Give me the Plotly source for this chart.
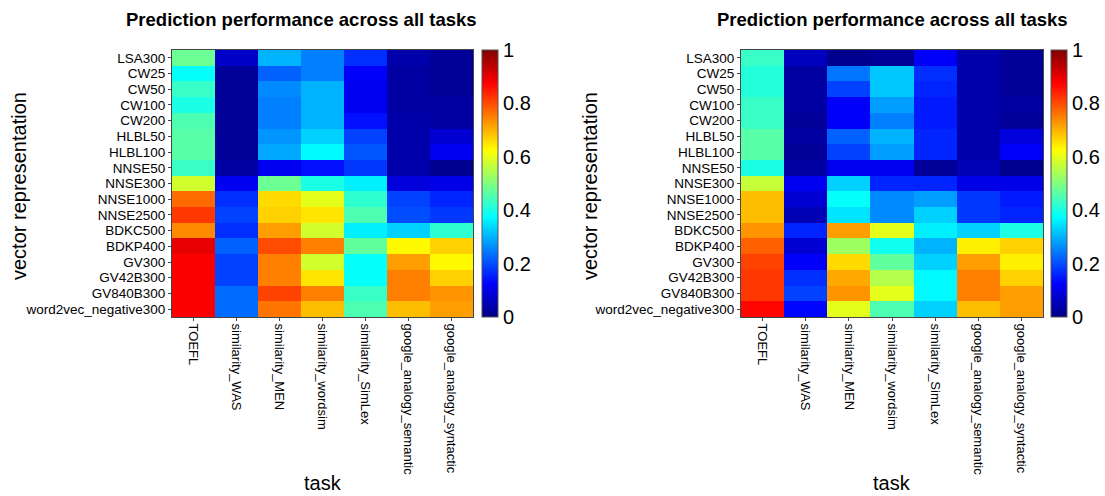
import plotly.graph_objects as go

W, H = 1105, 496

tasks = ["TOEFL", "similarity_WAS", "similarity_MEN", "similarity_wordsim",
         "similarity_SimLex", "google_analogy_semantic", "google_analogy_syntactic"]
vectors = ["LSA300", "CW25", "CW50", "CW100", "CW200", "HLBL50", "HLBL100", "NNSE50",
           "NNSE300", "NNSE1000", "NNSE2500", "BDKC500", "BDKP400", "GV300", "GV42B300",
           "GV840B300", "word2vec_negative300"]

left_values = [
    [0.48, 0.07, 0.30, 0.25, 0.17, 0.04, 0.02],
    [0.38, 0.02, 0.22, 0.25, 0.12, 0.03, 0.02],
    [0.43, 0.02, 0.26, 0.30, 0.11, 0.03, 0.02],
    [0.40, 0.02, 0.25, 0.30, 0.11, 0.03, 0.03],
    [0.45, 0.02, 0.25, 0.30, 0.14, 0.04, 0.03],
    [0.46, 0.02, 0.27, 0.33, 0.19, 0.04, 0.08],
    [0.46, 0.02, 0.29, 0.37, 0.21, 0.04, 0.11],
    [0.43, 0.03, 0.11, 0.14, 0.18, 0.04, 0.01],
    [0.58, 0.11, 0.48, 0.40, 0.36, 0.09, 0.10],
    [0.77, 0.17, 0.66, 0.60, 0.42, 0.19, 0.16],
    [0.82, 0.19, 0.67, 0.65, 0.45, 0.20, 0.18],
    [0.74, 0.17, 0.72, 0.58, 0.36, 0.33, 0.42],
    [0.90, 0.22, 0.80, 0.75, 0.47, 0.63, 0.67],
    [0.88, 0.19, 0.75, 0.58, 0.38, 0.72, 0.63],
    [0.88, 0.19, 0.75, 0.65, 0.38, 0.75, 0.67],
    [0.88, 0.23, 0.81, 0.75, 0.43, 0.75, 0.73],
    [0.88, 0.23, 0.76, 0.69, 0.45, 0.69, 0.72],
]

right_values = [
    [0.43, 0.06, 0.01, 0.02, 0.12, 0.04, 0.02],
    [0.41, 0.03, 0.24, 0.32, 0.17, 0.04, 0.02],
    [0.41, 0.03, 0.19, 0.32, 0.16, 0.04, 0.02],
    [0.43, 0.03, 0.12, 0.28, 0.15, 0.04, 0.03],
    [0.43, 0.02, 0.12, 0.25, 0.15, 0.04, 0.02],
    [0.46, 0.03, 0.22, 0.30, 0.16, 0.04, 0.09],
    [0.46, 0.02, 0.19, 0.28, 0.16, 0.04, 0.12],
    [0.40, 0.03, 0.11, 0.11, 0.02, 0.05, 0.01],
    [0.57, 0.11, 0.33, 0.16, 0.16, 0.10, 0.10],
    [0.69, 0.08, 0.38, 0.26, 0.28, 0.18, 0.15],
    [0.69, 0.05, 0.35, 0.26, 0.33, 0.18, 0.16],
    [0.73, 0.16, 0.72, 0.60, 0.36, 0.33, 0.40],
    [0.78, 0.08, 0.53, 0.39, 0.30, 0.64, 0.67],
    [0.81, 0.12, 0.66, 0.47, 0.33, 0.72, 0.64],
    [0.82, 0.17, 0.71, 0.55, 0.37, 0.75, 0.67],
    [0.82, 0.19, 0.73, 0.60, 0.37, 0.75, 0.72],
    [0.87, 0.13, 0.60, 0.45, 0.33, 0.69, 0.72],
]

title_text = "Prediction performance across all tasks"
x_title = "task"
y_title = "vector representation"
cbar_ticks = [0, 0.2, 0.4, 0.6, 0.8, 1]
cbar_ticktext = ["0", "0.2", "0.4", "0.6", "0.8", "1"]

jet = [
    [0.0, "rgb(0,0,132)"],
    [0.125, "rgb(0,0,255)"],
    [0.375, "rgb(0,255,255)"],
    [0.625, "rgb(255,255,0)"],
    [0.875, "rgb(255,0,0)"],
    [1.0, "rgb(128,0,0)"],
]

FONT = "Liberation Sans, Arial, Helvetica, sans-serif"
LINE = "#444444"

# pixel geometry
panels = [
    dict(x0=172, x1=473, cb=482, title_cx=301, ytitle_x=19, vals=left_values),
    dict(x0=741, x1=1043, cb=1051, title_cx=892, ytitle_x=590, vals=right_values),
]
top_px, bot_px = 50, 317


def px_x(p):
    return p / W


def px_y(p):
    return 1 - p / H


fig = go.Figure()
annotations = []
for i, p in enumerate(panels):
    n = 1 + 2 * i          # main axes index
    m = 2 + 2 * i          # overlay axes index (top/right inward ticks)
    xa, ya = ("x" if n == 1 else f"x{n}"), ("y" if n == 1 else f"y{n}")
    xo, yo = f"x{m}", f"y{m}"
    fig.add_trace(go.Heatmap(
        z=p["vals"], x=tasks, y=vectors, xaxis=xa, yaxis=ya,
        zmin=0, zmax=1, colorscale=jet, xgap=0, ygap=0,
        colorbar=dict(
            x=px_x(p["cb"]), xanchor="left", xref="paper",
            y=px_y(top_px), yanchor="top",
            len=bot_px - top_px, lenmode="pixels",
            thickness=16, thicknessmode="pixels",
            outlinewidth=1, outlinecolor="#555555",
            tickvals=cbar_ticks, ticktext=cbar_ticktext,
            ticks="", tickfont=dict(family=FONT, size=20, color="black"),
            xpad=0, ypad=0,
        ),
    ))
    axis_common = dict(
        showline=True, linecolor=LINE, linewidth=1, mirror=True,
        ticks="outside", ticklen=3, tickcolor=LINE, showgrid=False,
        zeroline=False,
    )
    xdom = [px_x(p["x0"]), px_x(p["x1"])]
    ydom = [px_y(bot_px), px_y(top_px)]
    fig.layout["xaxis" if n == 1 else f"xaxis{n}"] = dict(
        domain=xdom, anchor=ya, tickangle=90,
        tickmode="array", tickvals=tasks, ticktext=tasks,
        tickfont=dict(family=FONT, size=13, color="black"), **axis_common,
    )
    fig.layout["yaxis" if n == 1 else f"yaxis{n}"] = dict(
        domain=ydom, anchor=xa, autorange="reversed",
        tickmode="array", tickvals=vectors, ticktext=vectors,
        tickfont=dict(family=FONT, size=13.5, color="black"), ticksuffix=" ",
        **axis_common,
    )
    # overlay axes: inward ticks on the top and right edges
    fig.layout[f"xaxis{m}"] = dict(
        domain=xdom, anchor=yo, side="top", overlaying=xa, matches=xa,
        tickmode="array", tickvals=tasks, showticklabels=False,
        ticks="inside", ticklen=4, tickcolor=LINE, showline=False,
        showgrid=False, zeroline=False,
    )
    fig.layout[f"yaxis{m}"] = dict(
        domain=ydom, anchor=xo, side="right", overlaying=ya, matches=ya,
        tickmode="array", tickvals=vectors, showticklabels=False,
        ticks="inside", ticklen=4, tickcolor=LINE, showline=False,
        showgrid=False, zeroline=False,
    )
    annotations.append(dict(
        text="<b>" + title_text + "</b>", x=px_x(p["title_cx"]), y=px_y(19),
        xref="paper", yref="paper", showarrow=False, xanchor="center", yanchor="middle",
        font=dict(family=FONT, size=18.5, color="black"),
    ))
    annotations.append(dict(
        text=x_title, x=px_x((p["x0"] + p["x1"]) / 2), y=px_y(483),
        xref="paper", yref="paper", showarrow=False, xanchor="center", yanchor="middle",
        font=dict(family=FONT, size=20, color="black"),
    ))
    annotations.append(dict(
        text=y_title, x=px_x(p["ytitle_x"]), y=px_y(186), textangle=-90,
        xref="paper", yref="paper", showarrow=False, xanchor="center", yanchor="middle",
        font=dict(family=FONT, size=20, color="black"),
    ))

fig.update_layout(
    width=W, height=H, margin=dict(l=0, r=0, t=0, b=0),
    paper_bgcolor="white", plot_bgcolor="white",
    annotations=annotations, showlegend=False,
)

fig.write_html(
    "out.html",
    config={"displayModeBar": False},
    post_script="document.body.style.margin='0';document.body.style.padding='0';",
)
